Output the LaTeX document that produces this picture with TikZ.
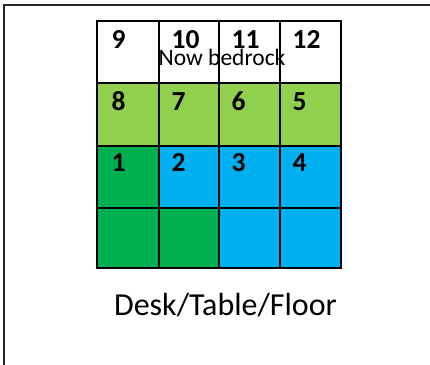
\documentclass[tikz,border=0pt]{standalone}
\usepackage{fontspec}
\setmainfont{Carlito}
\definecolor{lgreen}{HTML}{92D050}
\definecolor{dgreen}{HTML}{00B050}
\definecolor{cblue}{HTML}{00B0F0}
\tikzset{
  cell/.style={draw=black, line width=2pt},
  num/.style={anchor=base west, inner sep=0pt, font=\fontsize{27.5}{30}\selectfont\bfseries},
  label/.style={anchor=base, inner sep=0pt, font=\fontsize{23.5}{26}\selectfont},
  frame/.style={draw=black!85, line width=2pt}
}
\begin{document}
\begin{tikzpicture}[x=1pt,y=-1pt]
\useasboundingbox (0,0) rectangle (430,364);
\coordinate (ftr) at (431,5);
\coordinate (ftl) at (4,5);
\coordinate (fbl) at (4,365);
\draw[frame] (ftr) -- (ftl) -- (fbl);
% cells
\def\xa{97}\def\xb{159}\def\xc{219}\def\xd{280}\def\xe{341}
\def\ya{21}\def\yb{83}\def\yc{146}\def\yd{208}\def\ye{268}
% row 1 (top): white
\path[cell,fill=white] (\xa,\ya) rectangle (\xb,\yb);
\path[cell,fill=white] (\xb,\ya) rectangle (\xc,\yb);
\path[cell,fill=white] (\xc,\ya) rectangle (\xd,\yb);
\path[cell,fill=white] (\xd,\ya) rectangle (\xe,\yb);
% row 2: light green
\path[cell,fill=lgreen] (\xa,\yb) rectangle (\xb,\yc);
\path[cell,fill=lgreen] (\xb,\yb) rectangle (\xc,\yc);
\path[cell,fill=lgreen] (\xc,\yb) rectangle (\xd,\yc);
\path[cell,fill=lgreen] (\xd,\yb) rectangle (\xe,\yc);
% row 3
\path[cell,fill=dgreen] (\xa,\yc) rectangle (\xb,\yd);
\path[cell,fill=cblue] (\xb,\yc) rectangle (\xc,\yd);
\path[cell,fill=cblue] (\xc,\yc) rectangle (\xd,\yd);
\path[cell,fill=cblue] (\xd,\yc) rectangle (\xe,\yd);
% row 4
\path[cell,fill=dgreen] (\xa,\yd) rectangle (\xb,\ye);
\path[cell,fill=dgreen] (\xb,\yd) rectangle (\xc,\ye);
\path[cell,fill=cblue] (\xc,\yd) rectangle (\xd,\ye);
\path[cell,fill=cblue] (\xd,\yd) rectangle (\xe,\ye);
% numbers
\node[num] (n9) at (111.5,48) {9};
\node[num] (n10) at (171.5,48) {10};
\node[num] (n11) at (231.5,48) {11};
\node[num] (n12) at (292.5,48) {12};
\node[num] (n8) at (111.5,110) {8};
\node[num] (n7) at (171.5,110) {7};
\node[num] (n6) at (231.5,110) {6};
\node[num] (n5) at (292.5,110) {5};
\node[num] (n1) at (111.5,171) {1};
\node[num] (n2) at (171.5,171) {2};
\node[num] (n3) at (231.5,171) {3};
\node[num] (n4) at (292.5,171) {4};
\node[label] (bed) at (222,65) {Now bedrock};
\node[label, font=\fontsize{32}{35}\selectfont] (desk) at (225.5,315) {Desk/Table/Floor};
\end{tikzpicture}
\end{document}
